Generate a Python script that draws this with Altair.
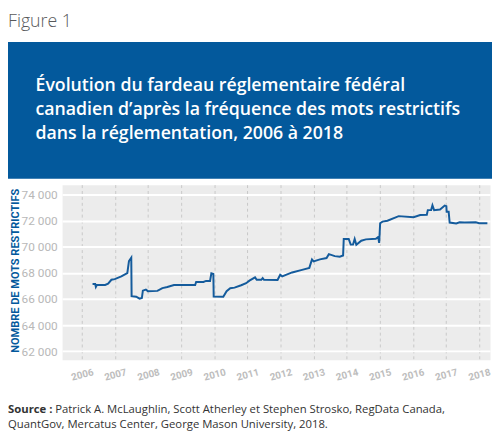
import altair as alt
import pandas as pd

# ---------------- data ----------------
years = [2006.32, 2006.40, 2006.42, 2006.45, 2006.70, 2006.79, 2006.89, 2006.99,
         2007.19, 2007.37, 2007.42, 2007.49, 2007.50, 2007.64, 2007.74, 2007.81,
         2007.84, 2007.93, 2007.99, 2008.28, 2008.43, 2008.58, 2008.78, 2009.42,
         2009.45, 2009.67, 2009.75, 2009.87, 2009.91, 2009.97, 2009.98, 2010.27,
         2010.37, 2010.48, 2010.61, 2010.81, 2010.96, 2011.06, 2011.23, 2011.28,
         2011.42, 2011.46, 2011.50, 2011.91, 2011.99, 2012.05, 2012.35, 2012.65,
         2012.87, 2012.95, 2013.00, 2013.19, 2013.39, 2013.46, 2013.64, 2013.79,
         2013.89, 2013.91, 2014.06, 2014.12, 2014.19, 2014.24, 2014.29, 2014.44,
         2014.58, 2014.88, 2014.95, 2014.98, 2015.01, 2015.08, 2015.23, 2015.57,
         2016.02, 2016.22, 2016.42, 2016.45, 2016.55, 2016.59, 2016.64, 2016.82,
         2016.96, 2017.01, 2017.02, 2017.08, 2017.11, 2017.31, 2017.41, 2017.56,
         2017.90, 2018.00, 2018.25]
values = [67150, 67150, 66920, 67070, 67070, 67170, 67470, 67520,
          67730, 67980, 68900, 69160, 66220, 66170, 66020, 66070,
          66640, 66720, 66600, 66620, 66830, 66920, 67070, 67070,
          67300, 67300, 67380, 67380, 67970, 67920, 66180, 66170,
          66600, 66820, 66870, 67050, 67210, 67400, 67650, 67470,
          67470, 67600, 67470, 67450, 67850, 67730, 68030, 68230,
          68380, 69030, 68880, 69030, 69130, 69430, 69280, 69230,
          69330, 70590, 70590, 70160, 70160, 70590, 70140, 70460,
          70560, 70610, 70740, 70290, 71800, 71920, 71990, 72340,
          72250, 72420, 72440, 72800, 72800, 73170, 72800, 72850,
          73150, 73100, 72670, 72670, 71850, 71780, 71870, 71850,
          71870, 71800, 71800]
assert len(years) == len(values)

x_ticks = list(range(2006, 2019))
y_ticks = [62000, 64000, 66000, 68000, 70000, 72000, 74000]

figure_label = "Figure 1"
title_lines = ["Évolution du fardeau réglementaire fédéral",
               "canadien d’après la fréquence des mots restrictifs",
               "dans la réglementation, 2006 à 2018"]
y_title = "NOMBRE DE MOTS RESTRICTIFS"
source_bold = "Source :"
source_line1 = "Patrick A. McLaughlin, Scott Atherley et Stephen Strosko, RegData Canada,"
source_line2 = "QuantGov, Mercatus Center, George Mason University, 2018."

# ---------------- chart ----------------
df = pd.DataFrame({"year": years, "value": values, "order": list(range(len(years)))})
one = pd.DataFrame({"k": [0]})

BLUE = "#03599c"
LINE = "#145b9c"
FONT = "Open Sans"

line = alt.Chart(df).mark_line(color=LINE, strokeWidth=2).encode(
    x=alt.X("year:Q",
            scale=alt.Scale(domain=[2005.4, 2018.33], nice=False, zero=False),
            axis=alt.Axis(values=x_ticks, format="d", title=None, ticks=False, domain=False,
                          grid=True, gridDash=[3, 3], gridColor="#c8c8c8", gridWidth=1,
                          labelAngle=345, labelAlign="center", labelBaseline="middle",
                          labelPadding=15, labelFont="Roboto", labelFontWeight="bold",
                          labelFontSize=10, labelColor="#bdbdbd", labelOverlap=False,
                          labelFlush=False)),
    y=alt.Y("value:Q",
            scale=alt.Scale(domain=[61350, 74750], nice=False, zero=False),
            axis=alt.Axis(values=y_ticks,
                          labelExpr="replace(format(datum.value, ','), ',', ' ')",
                          title=y_title, titleAngle=270, titleX=-44, titleY=87,
                          titleAlign="center", titleBaseline="alphabetic",
                          titleFont="Roboto", titleFontWeight="bold",
                          titleFontSize=11.2, titleColor=BLUE,
                          ticks=False, domain=False, grid=True, gridColor="white",
                          gridWidth=2, labelPadding=5, labelFont="Roboto",
                          labelFontSize=12, labelColor="#b8b8b8", labelOverlap=False)),
    order="order:Q",
)

box = alt.Chart(one).mark_rect(color=BLUE).encode(
    x=alt.value(-55), x2=alt.value(437), y=alt.value(-145), y2=alt.value(-6))

fig = alt.Chart(one).mark_text(align="left", baseline="alphabetic", font=FONT,
                               fontSize=18, fontWeight=300, color="#58595b").encode(
    x=alt.value(-55), y=alt.value(-160), text=alt.value(figure_label))

title = alt.Chart(one).mark_text(align="left", baseline="alphabetic", font=FONT,
                                 fontSize=18, fontWeight=600, color="white",
                                 lineHeight=24).encode(
    x=alt.value(-27), y=alt.value(-94.7), text=alt.value(title_lines))

src_b = alt.Chart(one).mark_text(align="left", baseline="alphabetic", font=FONT,
                                 fontSize=11.5, fontWeight="bold", color="#333333").encode(
    x=alt.value(-55), y=alt.value(232), text=alt.value(source_bold))
src_1 = alt.Chart(one).mark_text(align="left", baseline="alphabetic", font=FONT,
                                 fontSize=11.5, color="#333333").encode(
    x=alt.value(-7), y=alt.value(232), text=alt.value(source_line1))
src_2 = alt.Chart(one).mark_text(align="left", baseline="alphabetic", font=FONT,
                                 fontSize=11.5, color="#333333").encode(
    x=alt.value(-55), y=alt.value(247), text=alt.value(source_line2))

chart = alt.layer(line, box, fig, title, src_b, src_1, src_2).properties(
    width=435, height=178,
    padding={"left": 55, "top": 176, "right": 2, "bottom": 76},
    autosize=alt.AutoSizeParams(type="none"),
).configure_view(fill="#ececec", stroke="transparent")

chart.save("out.html", embed_options={"renderer": "svg", "actions": False})
